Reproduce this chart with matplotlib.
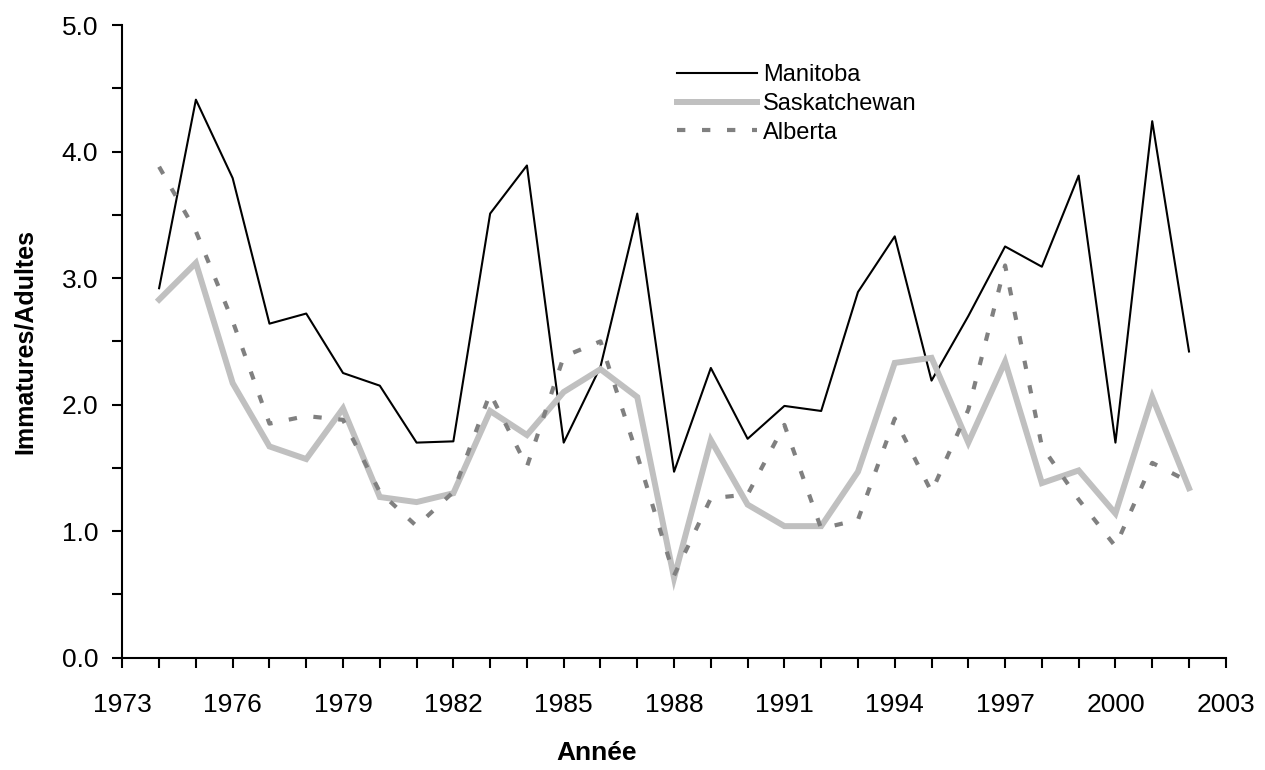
#!/usr/bin/env python3

import matplotlib
matplotlib.use('Agg')
import matplotlib.pyplot as plt
from matplotlib import font_manager
from matplotlib.ticker import MultipleLocator

years = list(range(1974, 2003))
year_ticks = list(range(1973, 2004, 3))

manitoba = [2.92, 4.41, 3.79, 2.64, 2.72, 2.25, 2.15, 1.70, 1.71, 3.51,
            3.89, 1.70, 2.30, 3.51, 1.47, 2.29, 1.73, 1.99, 1.95, 2.89,
            3.33, 2.19, 2.70, 3.25, 3.09, 3.81, 1.70, 4.24, 2.42]

saskatchewan = [2.83, 3.12, 2.17, 1.67, 1.57, 1.97, 1.27, 1.23, 1.30, 1.95,
                1.76, 2.10, 2.28, 2.06, 0.63, 1.72, 1.21, 1.04, 1.04, 1.47,
                2.33, 2.37, 1.70, 2.34, 1.38, 1.48, 1.14, 2.06, 1.34]

alberta = [3.88, 3.37, 2.66, 1.85, 1.91, 1.88, 1.31, 1.04, 1.31, 2.09,
           1.51, 2.38, 2.50, 1.60, 0.65, 1.26, 1.29, 1.84, 1.02, 1.09,
           1.89, 1.31, 1.96, 3.10, 1.67, 1.25, 0.88, 1.54, 1.39]

installed = {f.name for f in font_manager.fontManager.ttflist}
narrow = 'Liberation Sans Narrow' in installed
tick_font = 'Liberation Sans Narrow' if narrow else 'Liberation Sans'
plt.rcParams['font.family'] = ['Liberation Sans', 'DejaVu Sans']

fig = plt.figure(figsize=(12.65, 7.70), dpi=100)
ax = fig.add_axes([0.0967, 0.1458, 0.8723, 0.8217])

ax.plot(years, manitoba, color='black', lw=1.5, label='Manitoba')
ax.plot(years, saskatchewan, color='#c0c0c0', lw=4.3, label='Saskatchewan',
        solid_joinstyle='miter')
ax.plot(years, alberta, color='#808080', lw=3.0, dashes=(2, 4),
        dash_capstyle='butt', label='Alberta')

ax.set_xlim(1973, 2003)
ax.set_ylim(0, 5)
ax.set_xticks(year_ticks)
ax.xaxis.set_minor_locator(MultipleLocator(1))
ax.yaxis.set_major_locator(MultipleLocator(1))
ax.yaxis.set_minor_locator(MultipleLocator(0.5))
ax.yaxis.set_major_formatter(lambda v, p: f'{v:.1f}')

for side in ['top', 'right']:
    ax.spines[side].set_visible(False)
for side in ['left', 'bottom']:
    ax.spines[side].set_linewidth(1.5)

ax.tick_params(which='both', direction='out', length=7.5, width=1.5)
ax.tick_params(which='major', labelsize=21 if narrow else 19,
               labelfontfamily=tick_font)
ax.tick_params(axis='x', which='major', pad=18)
ax.tick_params(axis='y', which='major', pad=10)

ax.set_ylabel('Immatures/Adultes', fontsize=18, fontweight='bold', labelpad=18)
ax.set_xlabel('Année', fontsize=19, fontweight='bold')
ax.xaxis.set_label_coords(0.43, -0.132)

ax.legend(loc='upper left', bbox_to_anchor=(677 / 1265, 1 - 64 / 770),
          bbox_transform=fig.transFigure, frameon=False, fontsize=17,
          handlelength=3.4, handletextpad=0.25, labelspacing=0.29,
          borderpad=0, borderaxespad=0)

fig.savefig('out.png', dpi=100)
